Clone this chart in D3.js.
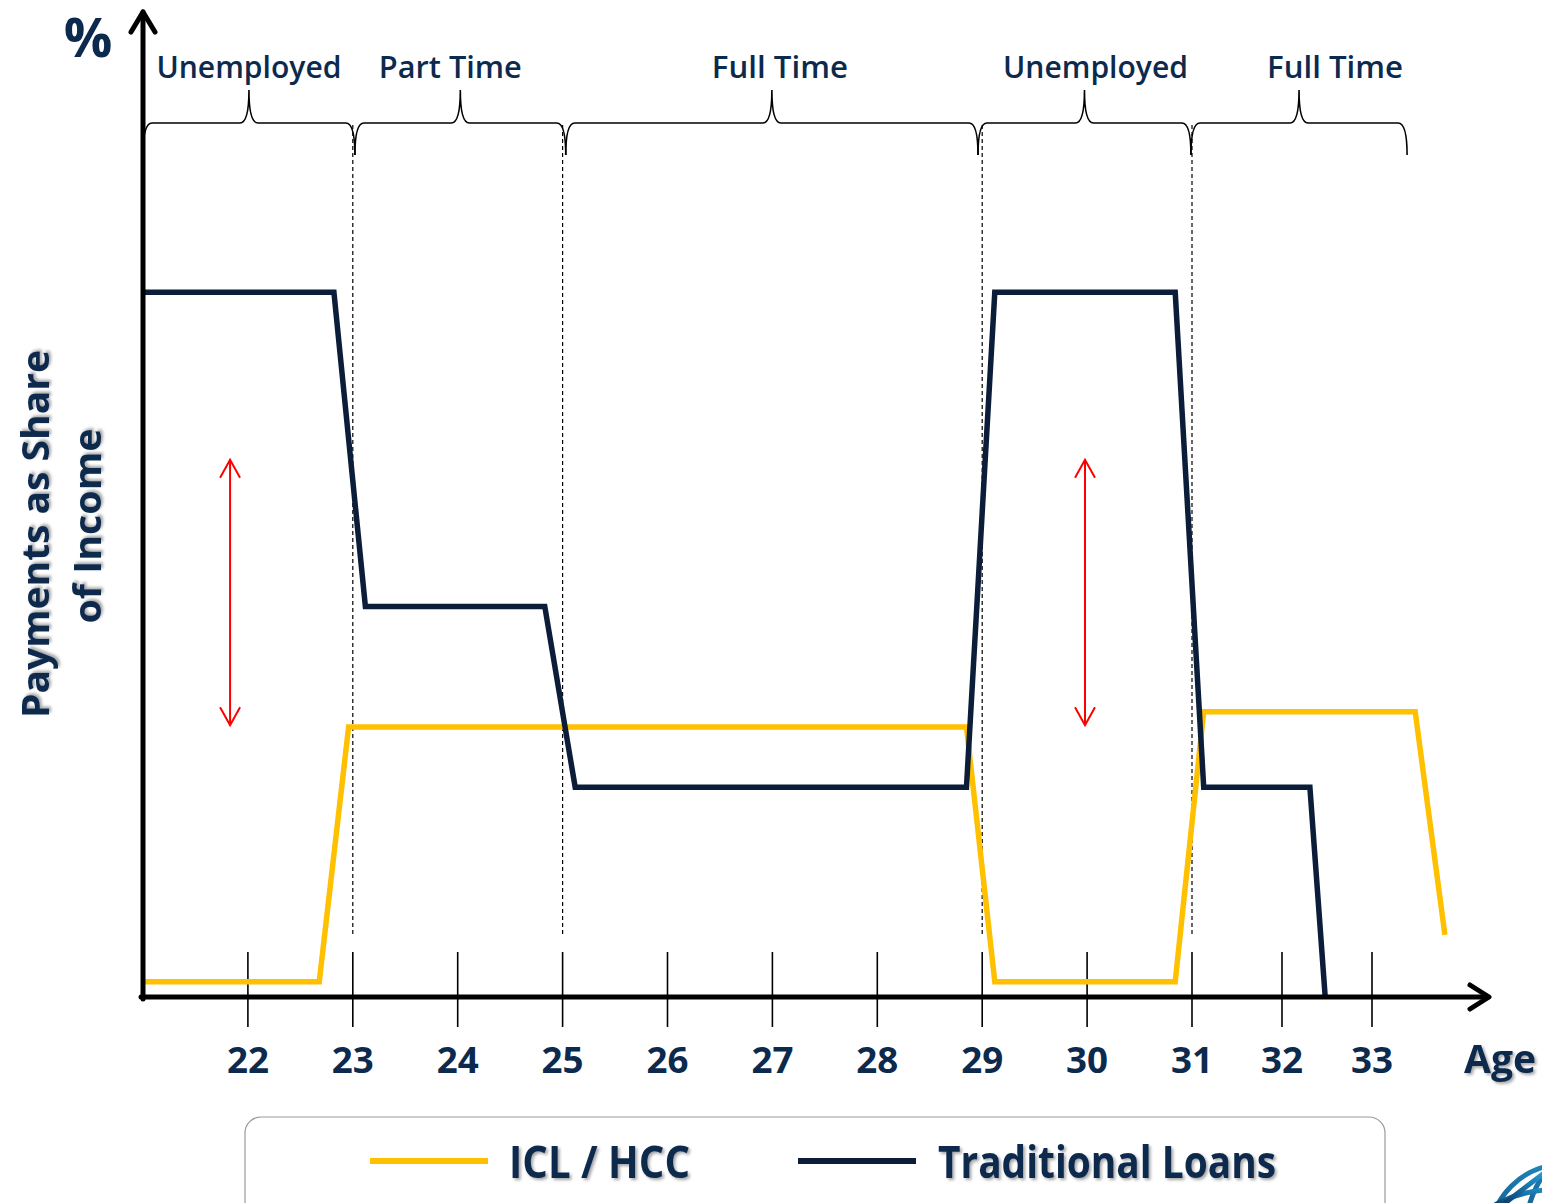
<!DOCTYPE html>
<html><head><meta charset="utf-8">
<script src="https://cdn.jsdelivr.net/npm/d3@7"></script>
<style>
html,body{margin:0;padding:0;background:#fff;overflow:hidden}
svg{display:block}
text{font-family:"Open Sans","DejaVu Sans",sans-serif}
</style></head>
<body>
<svg id="chart" width="1542" height="1203"></svg>
<script>
// ---- data ----
const ageTicks = [22, 23, 24, 25, 26, 27, 28, 29, 30, 31, 32, 33];
const tickLabels = ["22","23","24","25","26","27","28","29","30","31","32","33"];
const phaseStarts = [21, 23.02, 25.03, 28.96, 30.99];
const phaseEnds = [23.02, 25.03, 28.96, 30.99, 33.39];
const phaseLabels = ["Unemployed", "Part Time", "Full Time", "Unemployed", "Full Time"];
const dividerAges = [23, 25, 29, 31];
const tradAges =   [21, 22.82, 23.12, 24.83, 25.12, 28.85, 29.12, 30.84, 31.13, 32.31, 32.48];
const tradValues = [78.3, 78.3, 43.4, 43.4, 23.3, 23.3, 78.3, 78.3, 23.3, 23.3, 0];
const iclAges =    [21, 22.68, 22.96, 28.85, 29.12, 30.84, 31.13, 33.48, 33.81];
const iclValues =  [1.7, 1.7, 30, 30, 1.7, 1.7, 31.7, 31.7, 6.9];
const gapArrowAges = [21.83, 29.98];
const gapArrowRange = [59.7, 30.2];
const seriesNames = ["ICL / HCC", "Traditional Loans"];
const seriesColors = ["#FFC000", "#0B1D38"];

const navy = "#0C2A4E";
const svg = d3.select("#chart");

// defs: shadow + logo gradient
const defs = svg.append("defs");
const f = defs.append("filter").attr("id","sh").attr("x","-10%").attr("y","-10%").attr("width","130%").attr("height","140%");
f.append("feDropShadow").attr("dx",2).attr("dy",2).attr("stdDeviation",1.5).attr("flood-color","#000").attr("flood-opacity",0.35);
const gr = defs.append("linearGradient").attr("id","lg").attr("x1","0").attr("y1","1").attr("x2","1").attr("y2","0");
gr.append("stop").attr("offset","0").attr("stop-color","#0d3f6e");
gr.append("stop").attr("offset","1").attr("stop-color","#27a6e0");

// scales (ages 32-33 are drawn closer together in the original)
const x = d3.scaleLinear().domain([21, 31, 33]).range([143, 1192, 1372]);
const y = d3.scaleLinear().domain([0, 100]).range([997, 97]);

// ---- brace annotations ----
const braceY = 123, cuspY = 90, curlY = 155;
const braceG = svg.append("g").attr("fill","none").attr("stroke","#000").attr("stroke-width",1.6);
phaseStarts.forEach((s,i)=>{
  const a = x(s), b = x(phaseEnds[i]), m = (a+b)/2;
  const p = d3.path();
  p.moveTo(a, curlY);
  p.quadraticCurveTo(a, braceY, a+9, braceY);
  p.lineTo(m-9, braceY);
  p.quadraticCurveTo(m, braceY, m, cuspY);
  p.quadraticCurveTo(m, braceY, m+9, braceY);
  p.lineTo(b-9, braceY);
  p.quadraticCurveTo(b, braceY, b, curlY);
  braceG.append("path").attr("d", p.toString());
});
const labelOffsets = [0, -10, 8, 11, 36];
const labelWidths = [185, 143, 136, 185, 136];
svg.append("g").selectAll("text").data(phaseLabels).join("text")
  .attr("x",(d,i)=> (x(phaseStarts[i])+x(phaseEnds[i]))/2 + labelOffsets[i])
  .attr("y",78).attr("text-anchor","middle")
  .attr("font-size",30).attr("font-weight",600).attr("fill",navy)
  .attr("textLength",(d,i)=>labelWidths[i]).attr("lengthAdjust","spacingAndGlyphs")
  .text(d=>d);

// ---- dashed dividers ----
svg.append("g").selectAll("line").data(dividerAges).join("line")
  .attr("x1",d=>x(d)).attr("x2",d=>x(d)).attr("y1",125).attr("y2",937)
  .attr("stroke","#000").attr("stroke-width",1.2).attr("stroke-dasharray","4,3");

// ---- tick marks & labels ----
svg.append("g").selectAll("line").data(ageTicks).join("line")
  .attr("x1",d=>x(d)).attr("x2",d=>x(d)).attr("y1",952).attr("y2",1027)
  .attr("stroke","#000").attr("stroke-width",1.6);
svg.append("g").selectAll("text").data(ageTicks).join("text")
  .attr("x",d=>x(d)).attr("y",1073).attr("text-anchor","middle")
  .attr("font-size",35).attr("font-weight",700).attr("fill",navy)
  .attr("textLength",42).attr("lengthAdjust","spacingAndGlyphs")
  .text((d,i)=>tickLabels[i]);

// ---- series lines ----
const line = d3.line().x(d=>x(d[0])).y(d=>y(d[1]));
const iclPts = iclAges.map((a,i)=>[a, iclValues[i]]);
const tradPts = tradAges.map((a,i)=>[a, tradValues[i]]);
svg.append("path").attr("d", line(iclPts)).attr("fill","none")
  .attr("stroke",seriesColors[0]).attr("stroke-width",5.5).attr("stroke-linejoin","miter");
svg.append("path").attr("d", line(tradPts)).attr("fill","none")
  .attr("stroke",seriesColors[1]).attr("stroke-width",5.5).attr("stroke-linejoin","miter");

// ---- axes with arrowheads ----
const axG = svg.append("g").attr("stroke","#000").attr("fill","none").attr("stroke-linecap","round").attr("stroke-linejoin","round");
axG.append("line").attr("x1",x(21)).attr("x2",x(21)).attr("y1",y(0)+2).attr("y2",12).attr("stroke-width",5);
axG.append("path").attr("d",`M${x(21)-12},${32} L${x(21)},${12} L${x(21)+12},${32}`).attr("stroke-width",5);
axG.append("line").attr("x1",x(21)-2).attr("x2",1488).attr("y1",y(0)).attr("y2",y(0)).attr("stroke-width",5);
axG.append("path").attr("d",`M${1470},${y(0)-12} L${1489},${y(0)} L${1470},${y(0)+12}`).attr("stroke-width",5);

// ---- red gap arrows ----
const redG = svg.append("g").attr("stroke","#FF0000").attr("fill","none").attr("stroke-width",2);
gapArrowAges.forEach(a=>{
  const cx = x(a), t = y(gapArrowRange[0]), b = y(gapArrowRange[1]);
  redG.append("line").attr("x1",cx).attr("x2",cx).attr("y1",t).attr("y2",b);
  redG.append("path").attr("d",`M${cx-10},${t+18} L${cx},${t} L${cx+10},${t+18}`);
  redG.append("path").attr("d",`M${cx-10},${b-18} L${cx},${b} L${cx+10},${b-18}`);
});

// ---- axis titles ----
svg.append("text").attr("x",88).attr("y",57).attr("text-anchor","middle")
  .attr("font-size",54).attr("font-weight",700).attr("fill",navy).text("%");
const yt = svg.append("g").attr("transform","translate(0,534) rotate(-90)").attr("filter","url(#sh)");
yt.append("text").attr("x",0).attr("y",49).attr("text-anchor","middle")
  .attr("font-size",37).attr("font-weight",700).attr("fill",navy)
  .attr("textLength",368).attr("lengthAdjust","spacingAndGlyphs").text("Payments as Share");
yt.append("text").attr("x",8).attr("y",101).attr("text-anchor","middle")
  .attr("font-size",37).attr("font-weight",700).attr("fill",navy)
  .attr("textLength",195).attr("lengthAdjust","spacingAndGlyphs").text("of Income");
svg.append("text").attr("x",1500).attr("y",1073).attr("text-anchor","middle").attr("filter","url(#sh)")
  .attr("font-size",40).attr("font-weight",700).attr("fill",navy)
  .attr("textLength",72).attr("lengthAdjust","spacingAndGlyphs").text("Age");

// ---- legend ----
svg.append("rect").attr("x",245).attr("y",1117).attr("width",1140).attr("height",110).attr("rx",16)
  .attr("fill","#fff").attr("stroke","#9a9a9a").attr("stroke-width",1.2);
const legX = [370, 798], legTextX = [509, 938], legW = [181, 338];
seriesNames.forEach((n,i)=>{
  svg.append("line").attr("x1",legX[i]).attr("x2",legX[i]+118).attr("y1",1161).attr("y2",1161)
    .attr("stroke",seriesColors[i]).attr("stroke-width",6);
  svg.append("text").attr("x",legTextX[i]).attr("y",1178).attr("filter","url(#sh)")
    .attr("font-size",44).attr("font-weight",700).attr("fill",navy)
    .attr("textLength",legW[i]).attr("lengthAdjust","spacingAndGlyphs").text(n);
});

// ---- corner logo fragment ----
const lg = svg.append("g").attr("fill","none").attr("stroke","url(#lg)").attr("stroke-width",5);
lg.append("circle").attr("cx",1565).attr("cy",1240).attr("r",76);
lg.append("ellipse").attr("cx",1565).attr("cy",1240).attr("rx",40).attr("ry",76);
lg.append("path").attr("d","M1495,1205 Q1540,1180 1600,1195");
lg.append("path").attr("d","M1505,1203 L1548,1170");
</script>
</body></html>
